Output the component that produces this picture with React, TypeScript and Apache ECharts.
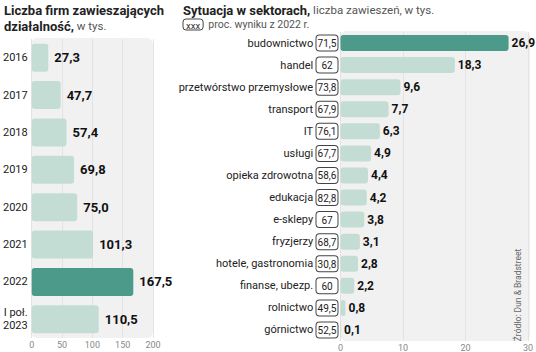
import React, { useEffect, useRef } from "react";
import * as echarts from "echarts";

const yearCats = ["2016", "2017", "2018", "2019", "2020", "2021", "2022", "I poł.\n2023"];
const yearValues = [27.3, 47.7, 57.4, 69.8, 75.0, 101.3, 167.5, 110.5];
const yearHighlight = 6;
const yearTicks = { min: 0, max: 200, interval: 50 };

const sectorCats = [
  "budownictwo", "handel", "przetwórstwo przemysłowe", "transport", "IT", "usługi",
  "opieka zdrowotna", "edukacja", "e-sklepy", "fryzjerzy", "hotele, gastronomia",
  "finanse, ubezp.", "rolnictwo", "górnictwo",
];
const sectorValues = [26.9, 18.3, 9.6, 7.7, 6.3, 4.9, 4.4, 4.2, 3.8, 3.1, 2.8, 2.2, 0.8, 0.1];
const sectorPct = [71.5, 62, 73.8, 67.9, 76.1, 67.7, 58.6, 82.8, 67, 68.7, 30.8, 60, 49.5, 52.5];
const sectorHighlight = 0;
const sectorTicks = { min: 0, max: 30, interval: 10 };

const LIGHT = "#c3ddd5";
const DARK = "#4c9a89";
const BOLD = "Roboto, 'Noto Sans', sans-serif";
const REG = "Roboto, 'Noto Sans', sans-serif";

const fmt = (v: number) => (Number.isInteger(v) ? String(v) : v.toFixed(1)).replace(".", ",");
const fmt1 = (v: number) => v.toFixed(1).replace(".", ",");

export default function App() {
  const ref = useRef<HTMLDivElement>(null);
  useEffect(() => {
    if (!ref.current) return;
    const chart = echarts.init(ref.current, undefined, { renderer: "svg" });
    const richTitle = {
      b: { fontFamily: BOLD, fontWeight: "bold", fontSize: 13, color: "#222", lineHeight: 16 },
      r: { fontFamily: REG, fontWeight: "normal", fontSize: 11.5, color: "#555", lineHeight: 16 },
    };
    const option: any = {
      animation: false,
      backgroundColor: "#ffffff",
      title: [
        {
          left: 4,
          top: 2,
          padding: 0,
          text: "{b|Liczba firm zawieszających}\n{b|działalność,}{r| w tys.}",
          textStyle: { fontWeight: "normal", rich: richTitle },
        },
        {
          left: 183,
          top: 2,
          padding: 0,
          text: "{b|Sytuacja w sektorach,}{r| liczba zawieszeń, w tys.}",
          textStyle: { fontWeight: "normal", rich: richTitle },
        },
        {
          left: 183,
          top: 18,
          padding: 0,
          text: "{box|xxx}{r|  proc. wyniku z 2022 r.}",
          textStyle: {
            fontWeight: "normal",
            rich: {
              box: {
                fontFamily: REG, fontWeight: "normal", fontSize: 9.5, color: "#333", borderColor: "#444",
                borderWidth: 1, borderRadius: 3, padding: [1, 3, 0, 3], lineHeight: 11,
              },
              r: { fontFamily: REG, fontWeight: "normal", fontSize: 10.5, color: "#555", lineHeight: 13 },
            },
          },
        },
      ],
      graphic: [
        { type: "rect", z: -10, shape: { x: 31, y: 38, width: 122, height: 300, r: 6 }, style: { fill: "#f1f1f1" } },
        { type: "rect", z: -10, shape: { x: 340, y: 31, width: 190, height: 310, r: 6 }, style: { fill: "#f1f1f1" } },
        {
          type: "text", x: 518, y: 295, rotation: Math.PI / 2, z: 10,
          style: {
            text: "Źródło: Dun & Bradstreet", fill: "#666", fontSize: 8.5, fontFamily: REG,
            align: "center", verticalAlign: "middle",
          },
        },
      ],
      grid: [
        { left: 31, width: 122, top: 39, height: 299, containLabel: false },
        { left: 340.5, width: 188.5, top: 32, height: 309, containLabel: false },
      ],
      xAxis: [
        {
          gridIndex: 0, type: "value", ...yearTicks,
          axisLine: { show: false }, axisTick: { show: false },
          splitLine: { lineStyle: { color: "#e3e3e3", width: 1 } },
          axisLabel: { color: "#888", fontSize: 9, fontFamily: REG, margin: 2 },
        },
        {
          gridIndex: 1, type: "value", ...sectorTicks,
          axisLine: { show: false }, axisTick: { show: false },
          splitLine: { lineStyle: { color: "#e3e3e3", width: 1 } },
          axisLabel: { color: "#888", fontSize: 9, fontFamily: REG, margin: 2 },
        },
      ],
      yAxis: [
        {
          gridIndex: 0, type: "category", data: yearCats, inverse: true,
          axisLine: { show: false }, axisTick: { show: false },
          axisLabel: {
            margin: 4,
            formatter: (val: string) => val.split("\n").map((s) => `{y|${s}}`).join("\n"),
            rich: {
              y: { color: "#222", fontSize: 11, fontFamily: REG, lineHeight: 13, align: "right" },
            },
          },
        },
        {
          gridIndex: 1, type: "category", data: sectorCats, inverse: true,
          axisLine: { show: false }, axisTick: { show: false },
          axisLabel: {
            margin: 3,
            formatter: (val: string, idx: number) => `{n|${val}} {b|${fmt(sectorPct[idx])}}`,
            rich: {
              n: { color: "#222", fontSize: 11, fontFamily: REG },
              b: {
                color: "#222", fontSize: 10, fontFamily: REG, borderColor: "#444", borderWidth: 1,
                borderRadius: 3, width: 19, align: "center", padding: [3, 1, 2, 1], lineHeight: 11,
                backgroundColor: "#fff",
              },
            },
          },
        },
      ],
      series: [
        {
          type: "bar", xAxisIndex: 0, yAxisIndex: 0, barWidth: 28,
          data: yearValues.map((v, i) => ({ value: v, itemStyle: { color: i === yearHighlight ? DARK : LIGHT } })),
          itemStyle: { borderRadius: 3 },
          label: {
            show: true, position: "right", distance: 6, formatter: (p: any) => fmt1(p.value),
            fontFamily: BOLD, fontWeight: "bold", fontSize: 13, color: "#111",
          },
        },
        {
          type: "bar", xAxisIndex: 1, yAxisIndex: 1, barWidth: 16,
          data: sectorValues.map((v, i) => ({ value: v, itemStyle: { color: i === sectorHighlight ? DARK : LIGHT } })),
          itemStyle: { borderRadius: 3 },
          label: {
            show: true, position: "right", distance: 3, formatter: (p: any) => fmt1(p.value),
            fontFamily: BOLD, fontWeight: "bold", fontSize: 12, color: "#111",
          },
        },
      ],
    };
    chart.setOption(option);
    return () => chart.dispose();
  }, []);
  return <div ref={ref} style={{ width: 536, height: 352, position: "fixed", left: 0, top: 0 }} />;
}
